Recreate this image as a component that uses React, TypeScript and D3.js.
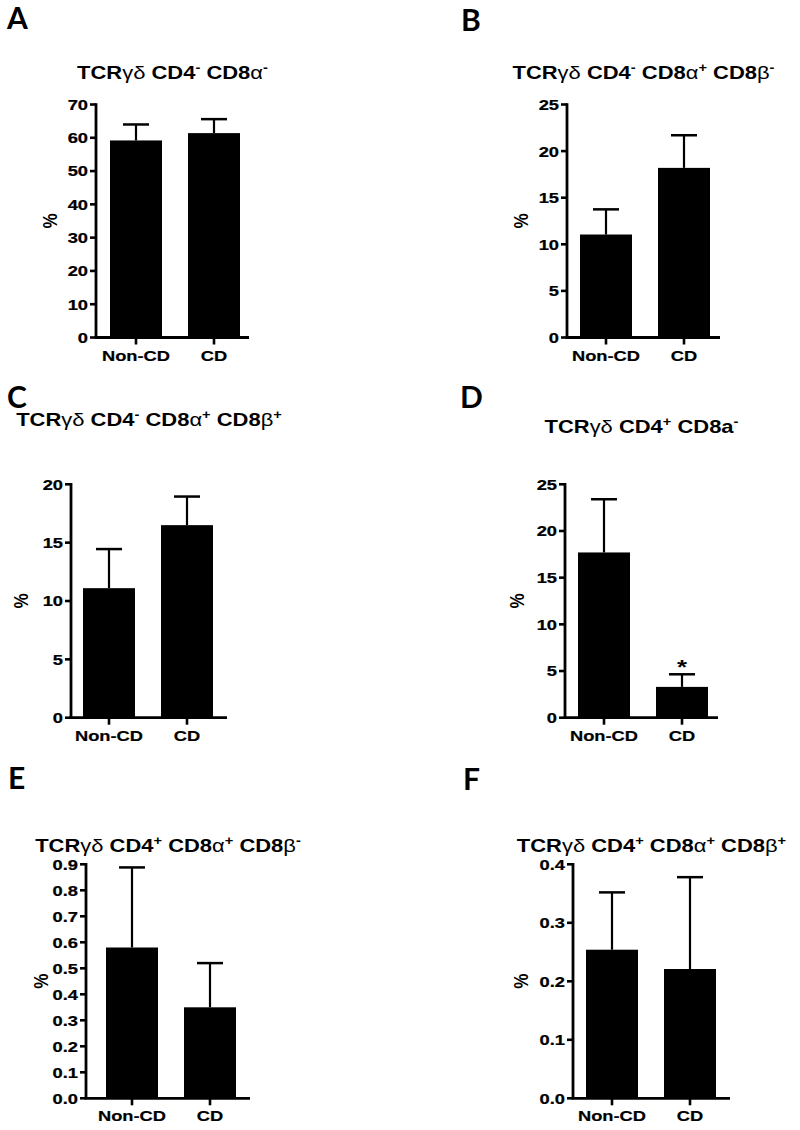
import React from 'react';
import * as d3 from 'd3';

// ---------- data ----------
const categories = ['Non-CD', 'CD'];
const panelLetters = ['A', 'B', 'C', 'D', 'E', 'F'];

const meanA = [59.2, 61.4];
const semA = [4.8, 4.2];
const meanB = [11.05, 18.2];
const semB = [2.7, 3.5];
const meanC = [11.1, 16.5];
const semC = [3.35, 2.45];
const meanD = [17.7, 3.3];
const semD = [5.7, 1.35];
const meanE = [0.58, 0.35];
const semE = [0.308, 0.17];
const meanF = [0.254, 0.221];
const semF = [0.098, 0.157];

const yMaxes = [70, 25, 20, 25, 0.9, 0.4];
const tickCounts = [7, 5, 4, 5, 9, 4];
const tickFormats = ['d', 'd', 'd', 'd', '.1f', '.1f'];
const significant = [[false, false], [false, false], [false, false], [false, true], [false, false], [false, false]];

type Seg = { t: string; sup?: boolean; light?: boolean };
const titles: Seg[][] = [
  [{ t: 'TCR' }, { t: 'γδ', light: true }, { t: ' CD4' }, { t: '-', sup: true }, { t: ' CD8' }, { t: 'α', light: true }, { t: '-', sup: true }],
  [{ t: 'TCR' }, { t: 'γδ', light: true }, { t: ' CD4' }, { t: '-', sup: true }, { t: ' CD8' }, { t: 'α', light: true }, { t: '+', sup: true }, { t: ' CD8' }, { t: 'β', light: true }, { t: '-', sup: true }],
  [{ t: 'TCR' }, { t: 'γδ', light: true }, { t: ' CD4' }, { t: '-', sup: true }, { t: ' CD8' }, { t: 'α', light: true }, { t: '+', sup: true }, { t: ' CD8' }, { t: 'β', light: true }, { t: '+', sup: true }],
  [{ t: 'TCR' }, { t: 'γδ', light: true }, { t: ' CD4' }, { t: '+', sup: true }, { t: ' CD8a' }, { t: '-', sup: true }],
  [{ t: 'TCR' }, { t: 'γδ', light: true }, { t: ' CD4' }, { t: '+', sup: true }, { t: ' CD8' }, { t: 'α', light: true }, { t: '+', sup: true }, { t: ' CD8' }, { t: 'β', light: true }, { t: '-', sup: true }],
  [{ t: 'TCR' }, { t: 'γδ', light: true }, { t: ' CD4' }, { t: '+', sup: true }, { t: ' CD8' }, { t: 'α', light: true }, { t: '+', sup: true }, { t: ' CD8' }, { t: 'β', light: true }, { t: '+', sup: true }],
];
const yLabel = '%';

const means = [meanA, meanB, meanC, meanD, meanE, meanF];
const sems = [semA, semB, semC, semD, semE, semF];

// ---------- layout ----------
type Layout = {
  ax: number; top: number; bottom: number; barL: number; end: number;
  titleY: number; letterX: number; letterY: number; pctX: number;
};
const layouts: Layout[] = [
  { ax: 96, top: 104.5, bottom: 337.5, barL: 110, end: 249, titleY: 79, letterX: 7, letterY: 29, pctX: 50.5 },
  { ax: 567, top: 104.5, bottom: 337.5, barL: 580, end: 720, titleY: 79, letterX: 461, letterY: 31, pctX: 521.7 },
  { ax: 71, top: 484.3, bottom: 717.7, barL: 83, end: 227, titleY: 426, letterX: 7, letterY: 408, pctX: 21.7 },
  { ax: 565, top: 484.3, bottom: 717.7, barL: 578, end: 718, titleY: 433, letterX: 460, letterY: 408, pctX: 518 },
  { ax: 86, top: 864.3, bottom: 1098.3, barL: 106, end: 250, titleY: 852, letterX: 8, letterY: 789, pctX: 41.7 },
  { ax: 573, top: 864.3, bottom: 1098.3, barL: 586, end: 730, titleY: 852, letterX: 463, letterY: 790, pctX: 521.7 },
];

const SX = 1.22;
const FONT = "'Liberation Sans', Arial, Helvetica, sans-serif";
const LETTER_FONT = "Lato, 'Open Sans', 'Liberation Sans', sans-serif";

function Title({ segs, x, y }: { segs: Seg[]; x: number; y: number }) {
  const parts: React.ReactNode[] = [];
  let shifted = false;
  segs.forEach((s, i) => {
    let dy = 0;
    if (s.sup && !shifted) { dy = -7; shifted = true; }
    else if (!s.sup && shifted) { dy = 7; shifted = false; }
    parts.push(
      <tspan key={i} dy={dy || undefined} fontSize={s.sup ? 12 : 18} fontWeight={s.light ? 'normal' : 'bold'}>
        {s.t}
      </tspan>
    );
  });
  return (
    <text transform={`translate(${x},${y}) scale(${SX},1)`} textAnchor="middle" fontFamily={FONT} fill="#000">
      {parts}
    </text>
  );
}

function Panel({ i }: { i: number }) {
  const L = layouts[i];
  const y = d3.scaleLinear().domain([0, yMaxes[i]]).range([L.bottom, L.top]);
  const x = d3.scaleBand<string>().domain(categories).range([L.barL, L.barL + 130]).paddingInner(1 / 3).paddingOuter(0);
  const ticks = y.ticks(tickCounts[i]);
  const fmt = d3.format(tickFormats[i]);
  const bw = x.bandwidth();
  const cap = 13;
  return (
    <g>
      <text x={L.letterX} y={L.letterY} fontFamily={LETTER_FONT} fontWeight="bold" fontSize={30} fill="#000">
        {panelLetters[i]}
      </text>
      <Title segs={titles[i]} x={(L.ax + L.end) / 2} y={L.titleY} />
      {categories.map((c, j) => (
        <rect key={c} x={x(c)} y={y(means[i][j])} width={bw} height={L.bottom - y(means[i][j])} fill="#000" />
      ))}
      {categories.map((c, j) => {
        const cx = (x(c) as number) + bw / 2;
        const yt = y(means[i][j] + sems[i][j]);
        return (
          <g key={c} stroke="#000" fill="none">
            <line x1={cx} x2={cx} y1={y(means[i][j])} y2={yt} strokeWidth={2.2} />
            <line x1={cx - cap} x2={cx + cap} y1={yt} y2={yt} strokeWidth={2.5} />
            {significant[i][j] && (
              <text transform={`translate(${cx},${yt}) scale(${SX},1)`} textAnchor="middle" fontFamily={FONT}
                fontWeight="bold" fontSize={21} fill="#000" stroke="none">*</text>
            )}
          </g>
        );
      })}
      <line x1={L.ax} x2={L.ax} y1={L.top - 1.3} y2={L.bottom} stroke="#000" strokeWidth={2.8} />
      {ticks.map((t) => (
        <g key={t}>
          <line x1={L.ax - 6} x2={L.ax} y1={y(t)} y2={y(t)} stroke="#000" strokeWidth={2.6} />
          <text transform={`translate(${L.ax - 8},${y(t) + 5.4}) scale(${SX},1)`} textAnchor="end" fontFamily={FONT}
            fontWeight="bold" fontSize={15} fill="#000" stroke="#000" strokeWidth={0.25}>{fmt(t)}</text>
        </g>
      ))}
      <line x1={L.ax - 1.4} x2={L.end} y1={L.bottom} y2={L.bottom} stroke="#000" strokeWidth={2.8} />
      {categories.map((c) => {
        const cx = (x(c) as number) + bw / 2;
        return (
          <g key={c}>
            <line x1={cx} x2={cx} y1={L.bottom} y2={L.bottom + 7} stroke="#000" strokeWidth={2.6} />
            <text transform={`translate(${cx},${L.bottom + 23}) scale(${SX},1)`} textAnchor="middle" fontFamily={FONT}
              fontWeight="bold" fontSize={15} fill="#000" stroke="#000" strokeWidth={0.2}>{c}</text>
          </g>
        );
      })}
      <text transform={`translate(${L.pctX + 6},${(L.top + L.bottom) / 2}) scale(${SX},1) rotate(-90)`} textAnchor="middle"
        fontFamily={FONT} fontWeight="bold" fontSize={17} fill="#000">{yLabel}</text>
    </g>
  );
}

export default function App() {
  return (
    <svg width={800} height={1130} style={{ position: 'absolute', left: 0, top: 0, background: '#fff' }}>
      <rect x={0} y={0} width={800} height={1130} fill="#fff" />
      {layouts.map((_, i) => <Panel key={i} i={i} />)}
    </svg>
  );
}
